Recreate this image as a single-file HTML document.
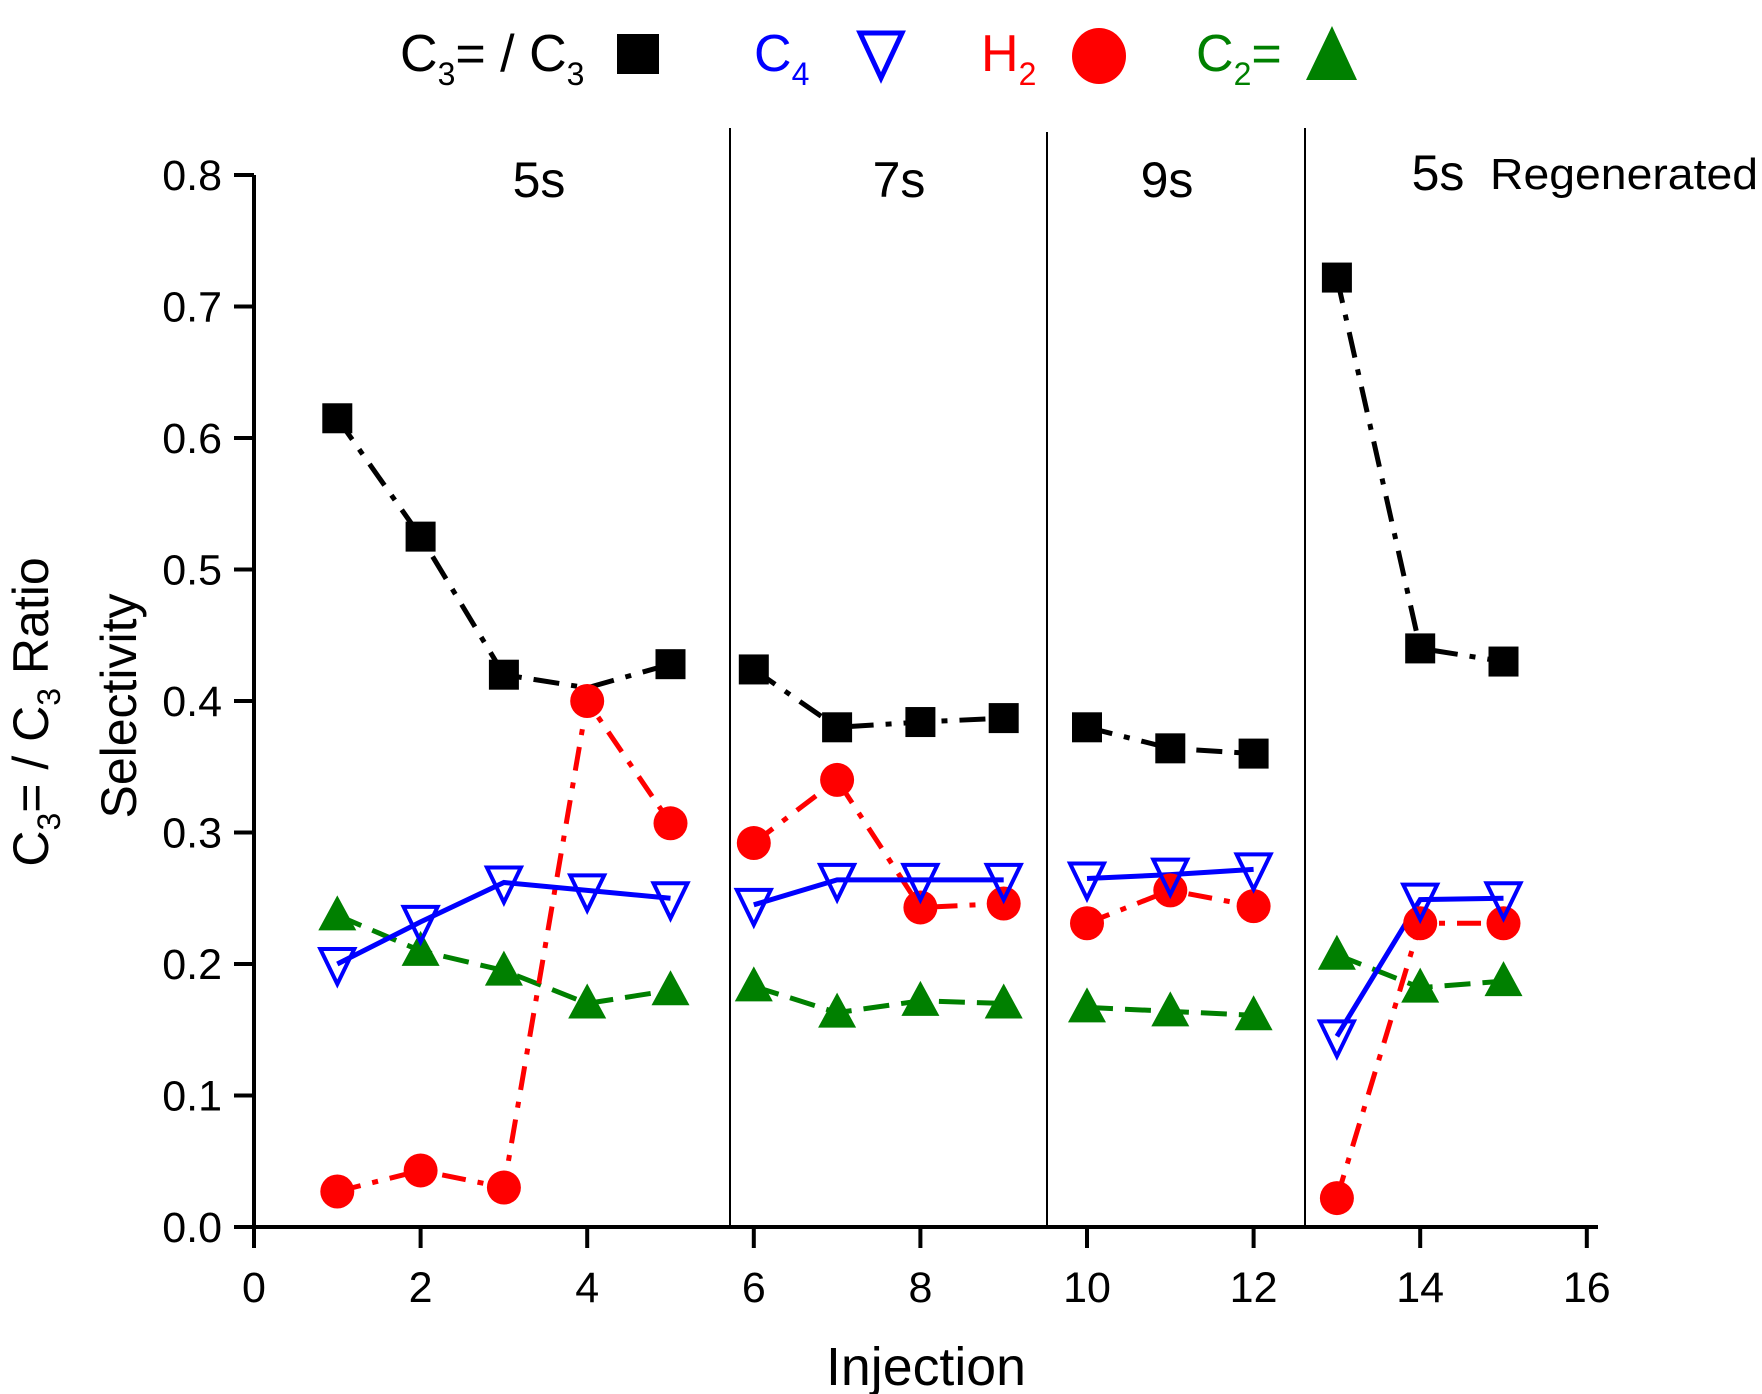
<!DOCTYPE html>
<html><head><meta charset="utf-8"><style>html,body{margin:0;padding:0;background:#fff}svg{display:block}text{font-family:"Liberation Sans",Arial,sans-serif}</style></head>
<body>
<svg id="s" width="1762" height="1394" viewBox="0 0 1762 1394" xmlns="http://www.w3.org/2000/svg">
<g stroke="#000" stroke-width="4" fill="none">
<line x1="254" y1="175" x2="254" y2="1229"/>
<line x1="245" y1="1227" x2="1598" y2="1227"/>
</g>
<g id="ticks" stroke="#000" stroke-width="4"></g>
<g stroke="#000" stroke-width="2">
<line x1="730" y1="128" x2="730" y2="1227"/>
<line x1="1047" y1="132" x2="1047" y2="1227"/>
<line x1="1305" y1="128" x2="1305" y2="1227"/>
</g>
<g font-size="43" text-anchor="end" id="ylab"></g>
<g font-size="43" text-anchor="middle" id="xlab"></g>
<g font-size="50" text-anchor="middle">
<text x="539" y="197">5s</text>
<text x="899" y="197">7s</text>
<text x="1167" y="197">9s</text>
<text x="1438" y="190">5s</text>
<text x="1490" y="189" font-size="44" text-anchor="start" textLength="268" lengthAdjust="spacingAndGlyphs">Regenerated</text>
</g>
<text x="926" y="1385" font-size="54" text-anchor="middle" textLength="200" lengthAdjust="spacingAndGlyphs">Injection</text>
<text transform="translate(48,712) rotate(-90)" font-size="50" text-anchor="middle">C<tspan font-size="32" dy="12">3</tspan><tspan dy="-12">= / C</tspan><tspan font-size="32" dy="12">3</tspan><tspan dy="-12"> Ratio</tspan></text>
<text transform="translate(136,706) rotate(-90)" font-size="50" text-anchor="middle">Selectivity</text>
<g id="data"></g>
<g font-size="52">
<text x="400" y="71">C<tspan font-size="32" dy="14">3</tspan><tspan dy="-14">= / C</tspan><tspan font-size="32" dy="14">3</tspan></text>
<rect x="617" y="34" width="42" height="40" fill="#000"/>
<text x="754" y="71" fill="#0000ff">C<tspan font-size="32" dy="14">4</tspan></text>
<polygon points="860,33 902,33 881,78" fill="none" stroke="#0000ff" stroke-width="5"/>
<text x="981" y="71" fill="#ff0000">H<tspan font-size="32" dy="14">2</tspan></text>
<ellipse cx="1099" cy="56" rx="27" ry="28" fill="#ff0000"/>
<text x="1196" y="71" fill="#008000">C<tspan font-size="32" dy="14">2</tspan><tspan dy="-14">=</tspan></text>
<polygon points="1332,26 1357,80 1306,80" fill="#008000"/>
</g>
<script>
var X=v=>254+83.3*v, Y=v=>1227-1315*v, NS="http://www.w3.org/2000/svg";
function el(p,t,a){var e=document.createElementNS(NS,t);for(var k in a)e.setAttribute(k,a[k]);p.appendChild(e);return e;}
var tk=document.getElementById('ticks'),yl=document.getElementById('ylab'),xl=document.getElementById('xlab');
for(var i=0;i<=8;i++){el(tk,'line',{x1:234,x2:254,y1:Y(i/10),y2:Y(i/10)});var t=el(yl,'text',{x:222,y:Y(i/10)+15});t.textContent=(i/10).toFixed(1);}
for(var i=0;i<=16;i+=2){el(tk,'line',{x1:X(i),x2:X(i),y1:1227,y2:1248});var t=el(xl,'text',{x:X(i),y:1302});t.textContent=i;}
var groups=[[1,5],[6,9],[10,12],[13,15]];
var S={
 k:[0.615,0.525,0.42,0.41,0.428,0.424,0.38,0.384,0.387,0.38,0.364,0.36,0.722,0.44,0.43],
 b:[0.2,0.232,0.262,0.256,0.25,0.245,0.264,0.264,0.264,0.265,0.268,0.272,0.145,0.249,0.25],
 r:[0.027,0.043,0.03,0.4,0.307,0.292,0.34,0.243,0.246,0.231,0.256,0.244,0.022,0.231,0.231],
 g:[0.237,0.21,0.195,0.17,0.18,0.183,0.163,0.172,0.17,0.167,0.164,0.161,0.207,0.182,0.187]};
var d=document.getElementById('data');
var cfg=[['g','#008000','26,12'],['r','#ff0000','24,12,6,12'],['b','#0000ff','none'],['k','#000','26,12,6,12']];
cfg.forEach(function(c){groups.forEach(function(gr){var pts=[];for(var i=gr[0];i<=gr[1];i++)pts.push(X(i)+','+Y(S[c[0]][i-1]));el(d,'polyline',{points:pts.join(' '),fill:'none',stroke:c[1],'stroke-width':5,'stroke-dasharray':c[2]});});});
for(var i=1;i<=15;i++){var x=X(i),y;
 y=Y(S.g[i-1]);el(d,'polygon',{points:(x)+','+(y-20)+' '+(x+19)+','+(y+15)+' '+(x-19)+','+(y+15),fill:'#008000'});
 y=Y(S.r[i-1]);el(d,'circle',{cx:x,cy:y,r:17,fill:'#ff0000'});
 y=Y(S.b[i-1]);el(d,'polygon',{points:(x-17)+','+(y-15)+' '+(x+17)+','+(y-15)+' '+x+','+(y+20),fill:'none',stroke:'#0000ff','stroke-width':4});
 if(i!=4){y=Y(S.k[i-1]);el(d,'rect',{x:x-15,y:y-15,width:30,height:30,fill:'#000'});}
}
</script>
</svg>
</body></html>
